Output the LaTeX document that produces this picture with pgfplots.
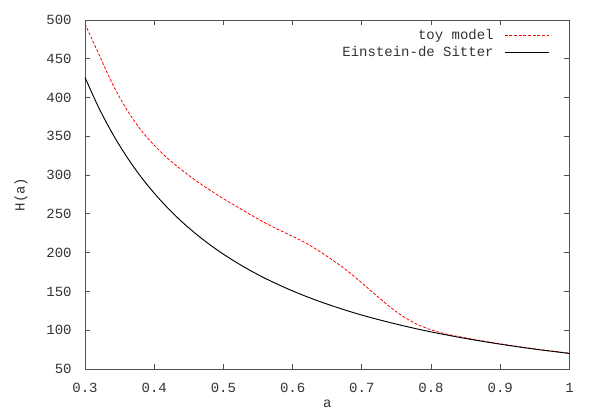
\documentclass[border=0pt]{standalone}
\usepackage{fontspec}
\setmainfont{Liberation Sans}
\setmonofont{Liberation Mono}
\usepackage{pgfplots}
\pgfplotsset{compat=1.18}
\usetikzlibrary{calc}
\definecolor{bordergray}{RGB}{80,80,80}

% toy model
\pgfplotstableread{
a     H
0.30  495.0
0.32  456.0
0.34  417.0
0.36  385.0
0.38  359.0
0.40  338.5
0.42  321.0
0.44  306.5
0.46  293.0
0.48  281.0
0.50  269.5
0.52  259.0
0.54  248.5
0.56  238.5
0.58  229.5
0.60  221.0
0.62  212.0
0.64  201.0
0.66  189.0
0.68  176.0
0.70  161.0
0.72  145.5
0.74  130.5
0.76  117.5
0.78  107.5
0.80  100.5
0.82  95.5
0.84  91.8
0.86  88.4
0.88  85.3
0.90  82.4
0.92  79.7
0.94  77.1
0.96  74.7
0.98  72.5
1.00  70.4
}\toy

% Einstein-de Sitter
\pgfplotstableread{
a     H
0.30  426.0
0.32  386.7
0.34  353.1
0.36  324.1
0.38  298.8
0.40  276.7
0.42  257.2
0.44  239.8
0.46  224.4
0.48  210.5
0.50  198.0
0.52  186.7
0.54  176.4
0.56  167.0
0.58  158.5
0.60  150.6
0.62  143.4
0.64  136.7
0.66  130.6
0.68  124.8
0.70  119.5
0.72  114.6
0.74  110.0
0.76  105.7
0.78  101.6
0.80  97.8
0.82  94.3
0.84  90.9
0.86  87.8
0.88  84.8
0.90  82.0
0.92  79.3
0.94  76.8
0.96  74.4
0.98  72.2
1.00  70.0
}\eds

\begin{document}
\begin{tikzpicture}
\begin{axis}[
    scale only axis,
    width=363.4pt, height=261.75pt,
    xmin=0.3, xmax=1, ymin=50, ymax=500,
    xtick={0.3,0.4,...,1.0},
    ytick={50,100,...,500},
    xticklabels={0.3,0.4,0.5,0.6,0.7,0.8,0.9,1},
    tick align=inside,
    major tick length=3.75pt,
    axis line style={bordergray, line width=0.6pt},
    every tick/.style={bordergray, line width=0.6pt},
    tick label style={font=\ttfamily\fontsize{10.5}{12}\selectfont, text=black!80},
    /pgf/number format/assume math mode=true,
    xticklabel style={yshift=-7pt},
    yticklabel style={xshift=-6.5pt},
    every axis x label/.style={at={(rel axis cs:0.5,0)}, yshift=-26pt, anchor=center},
    every axis y label/.style={at={(rel axis cs:0,0.5)}, xshift=-48pt, rotate=90, anchor=center},
    xlabel={a},
    ylabel={H(a)},
    label style={font=\ttfamily\fontsize{10.5}{12}\selectfont, text=black!80},
    legend style={at={(rel axis cs:0.967,0.99)}, anchor=north east,
        draw=none, fill=none, font=\ttfamily\fontsize{10.5}{12}\selectfont,
        text=black!80, row sep=0pt},
    legend cell align=right,
    legend plot pos=right,
]
\addplot[color=red, line width=0.6pt, dash pattern=on 2.2pt off 1.3pt, smooth,
    legend image code/.code={\path (0pt,0pt); \draw[red, line width=0.6pt, dash pattern=on 2.2pt off 1.3pt] (6pt,0pt) -- (39pt,0pt);}]
    table[x=a, y=H] {\toy};
\addlegendentry{toy model}
\addplot[color=black, line width=0.7pt, smooth,
    legend image code/.code={\path (0pt,0pt); \draw[black, line width=0.7pt] (6pt,0pt) -- (39pt,0pt);}]
    table[x=a, y=H] {\eds};
\addlegendentry{Einstein-de Sitter}
\coordinate (bl) at (rel axis cs:0,0);
\coordinate (tr) at (rel axis cs:1,1);
\end{axis}
\path ($(bl)+(-63.75pt,-37.5pt)$) rectangle ($(tr)+(21.4pt,15pt)$);
\end{tikzpicture}
\end{document}
